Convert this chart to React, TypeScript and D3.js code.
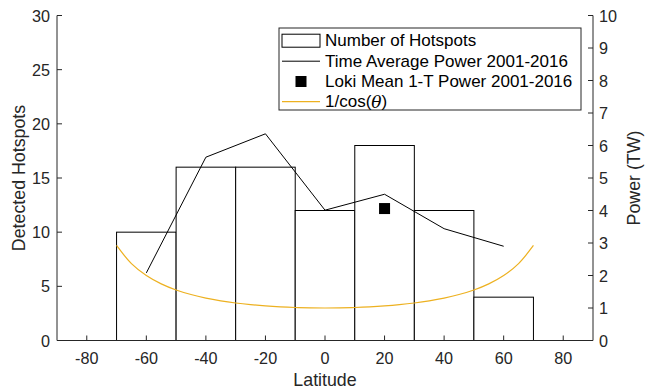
import React from "react";
import * as d3 from "d3";

const binEdgesLow = [-70, -50, -30, -10, 10, 30, 50];
const binCounts = [10, 16, 16, 12, 18, 12, 4];

const powerLat = [-60, -40, -20, 0, 20, 40, 60];
const powerTW = [2.08, 5.64, 6.36, 4.01, 4.5, 3.44, 2.9];

const lokiLat = [20];
const lokiPower = [4.06];

const cosLat = [-70, -65, -60, -55, -50, -45, -40, -35, -30, -25, -20, -15, -10, -5, 0, 5, 10, 15, 20, 25, 30, 35, 40, 45, 50, 55, 60, 65, 70];
const cosVal = [2.9238, 2.3662, 2.0, 1.7434, 1.5557, 1.4142, 1.3054, 1.2208, 1.1547, 1.1034, 1.0642, 1.0353, 1.0154, 1.0038, 1.0, 1.0038, 1.0154, 1.0353, 1.0642, 1.1034, 1.1547, 1.2208, 1.3054, 1.4142, 1.5557, 1.7434, 2.0, 2.3662, 2.9238];

const xTicks = [-80, -60, -40, -20, 0, 20, 40, 60, 80];
const yLeftTicks = [0, 5, 10, 15, 20, 25, 30];
const yRightTicks = [0, 1, 2, 3, 4, 5, 6, 7, 8, 9, 10];

const legendLabels = [
  "Number of Hotspots",
  "Time Average Power 2001-2016",
  "Loki Mean 1-T Power 2001-2016",
];

const FONT = "'Liberation Sans', Arial, Helvetica, sans-serif";
const YELLOW = "#EDB120";

export default function App() {
  const W = 645, H = 390;
  const L = 57, R = 593, T = 15.5, B = 340.5;
  const x = d3.scaleLinear().domain([-90, 90]).range([L, R]);
  const yL = d3.scaleLinear().domain([0, 30]).range([B, T]);
  const yR = d3.scaleLinear().domain([0, 10]).range([B, T]);

  const powerLine = d3.line<number>().x((_, i) => x(powerLat[i])).y((d) => yR(d));
  const cosLine = d3
    .line<number>()
    .x((_, i) => x(cosLat[i]))
    .y((d) => yR(d))
    .curve(d3.curveCatmullRom);

  const tickLen = 5;
  const fs = 16.2;
  const lfs = 17;

  const lgX = 279, lgY = 28, lgW = 302, lgH = 82;
  const rowY = [40.7, 61.2, 81.5, 101.7];
  const swX0 = 282, swX1 = 320, txX = 325;

  return (
    <svg width={W} height={H} style={{ position: "absolute", left: 0, top: 0 }} fontFamily={FONT}>
      <rect x={0} y={0} width={W} height={H} fill="#fff" />
      {binCounts.map((c, i) => (
        <rect
          key={i}
          x={x(binEdgesLow[i])}
          y={yL(c)}
          width={x(binEdgesLow[i] + 20) - x(binEdgesLow[i])}
          height={yL(0) - yL(c)}
          fill="#fff"
          stroke="#000"
          strokeWidth={1}
        />
      ))}
      <path d={cosLine(cosVal) || ""} fill="none" stroke={YELLOW} strokeWidth={1.2} />
      <path d={powerLine(powerTW) || ""} fill="none" stroke="#000" strokeWidth={1} />
      {lokiPower.map((p, i) => (
        <rect key={i} x={x(lokiLat[i]) - 5.5} y={yR(p) - 5.5} width={11} height={11} fill="#000" />
      ))}

      <g stroke="#262626" strokeWidth={1} fill="none">
        <line x1={L} y1={T} x2={L} y2={B} />
        <line x1={R} y1={T} x2={R} y2={B} />
        <line x1={L} y1={B} x2={R} y2={B} />
        {yLeftTicks.map((t) => (
          <line key={"l" + t} x1={L} x2={L + tickLen} y1={yL(t)} y2={yL(t)} />
        ))}
        {yRightTicks.map((t) => (
          <line key={"r" + t} x1={R} x2={R - tickLen} y1={yR(t)} y2={yR(t)} />
        ))}
        {xTicks.map((t) => (
          <line key={"x" + t} x1={x(t)} x2={x(t)} y1={B} y2={B - tickLen} />
        ))}
      </g>
      <g fill="#262626" fontSize={fs}>
        {yLeftTicks.map((t) => (
          <text key={"lt" + t} x={L - 7} y={yL(t)} textAnchor="end" dominantBaseline="central">
            {t}
          </text>
        ))}
        {yRightTicks.map((t) => (
          <text key={"rt" + t} x={R + 6} y={yR(t)} textAnchor="start" dominantBaseline="central">
            {t}
          </text>
        ))}
        {xTicks.map((t) => (
          <text key={"xt" + t} x={x(t)} y={B + 17.5} textAnchor="middle" dominantBaseline="central">
            {t}
          </text>
        ))}
      </g>
      <g fill="#262626" fontSize={17.8}>
        <text x={(L + R) / 2} y={385.5} textAnchor="middle">Latitude</text>
        <text transform={`translate(24.5, ${(T + B) / 2}) rotate(-90)`} textAnchor="middle">
          Detected Hotspots
        </text>
        <text transform={`translate(627, ${(T + B) / 2}) rotate(-90)`} textAnchor="middle" dominantBaseline="hanging">
          Power (TW)
        </text>
      </g>

      <rect x={lgX} y={lgY} width={lgW} height={lgH} fill="#fff" stroke="#262626" strokeWidth={1} />
      <rect x={swX0} y={rowY[0] - 6.5} width={swX1 - swX0} height={13} fill="#fff" stroke="#000" strokeWidth={1} />
      <line x1={swX0} x2={swX1} y1={rowY[1]} y2={rowY[1]} stroke="#000" strokeWidth={1} />
      <rect x={(swX0 + swX1) / 2 - 5.5} y={rowY[2] - 5.5} width={11} height={11} fill="#000" />
      <line x1={swX0} x2={swX1} y1={rowY[3]} y2={rowY[3]} stroke={YELLOW} strokeWidth={1.2} />
      <g fontSize={lfs} fill="#000">
        {legendLabels.map((s, i) => (
          <text key={i} x={txX} y={rowY[i]} dominantBaseline="central">
            {s}
          </text>
        ))}
        <text x={txX} y={rowY[3]} dominantBaseline="central">
          1/cos(<tspan fontFamily="'DejaVu Serif', 'Liberation Serif', serif" fontStyle="italic">θ</tspan>)
        </text>
      </g>
    </svg>
  );
}
